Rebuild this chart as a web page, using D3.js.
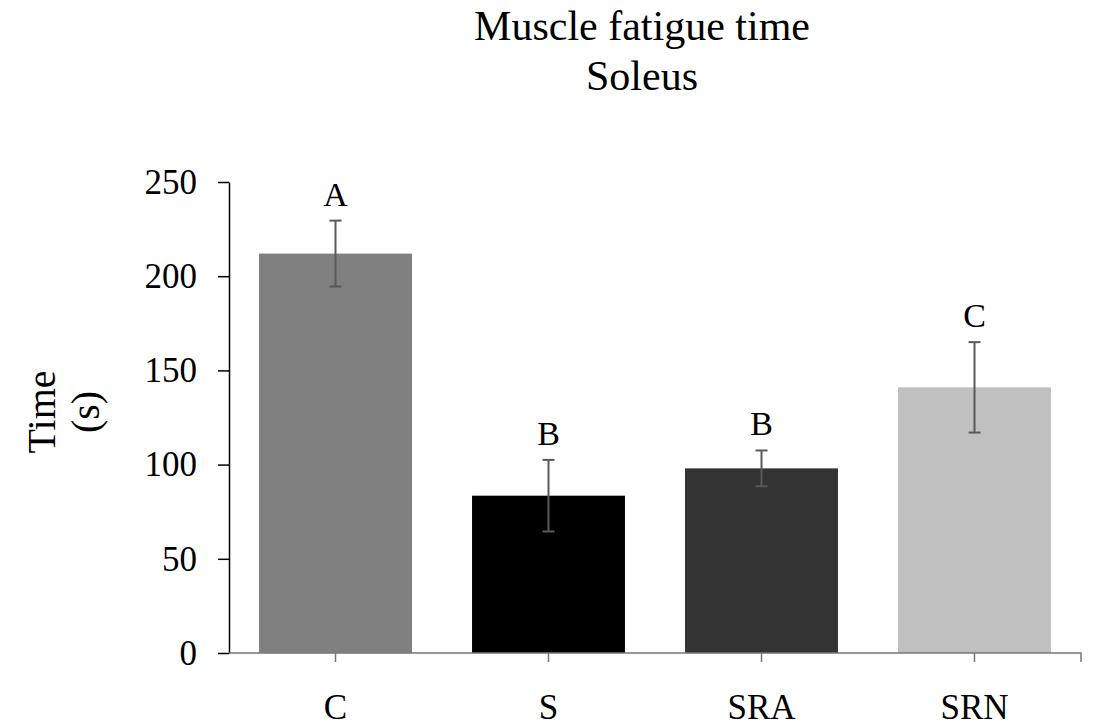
<!DOCTYPE html>
<html>
<head lang="en">
    <meta charset="UTF-8">
    <script type="text/javascript" src="https://d3js.org/d3.v7.min.js"></script>
    <style>
        body { margin: 0; background: #fff; }
        text { font-family: "Liberation Serif", "Times New Roman", serif; fill: #000; }
    </style>
</head>
<body>
    <svg id="chart" width="1097" height="725"></svg>
    <script>
        // values
        var groups = ["C", "S", "SRA", "SRN"];
        var means = [212, 83.5, 98, 141];
        var errors = [17.5, 19, 9.5, 24];
        var letters = ["A", "B", "B", "C"];
        var barColors = ["#808080", "#000000", "#333333", "#c0c0c0"];
        var yTicks = [0, 50, 100, 150, 200, 250];

        var svg = d3.select("#chart");
        var plotLeft = 229, plotRight = 1081, plotTop = 182, plotBottom = 653;

        var x = d3.scaleBand().domain(groups).range([plotLeft, plotRight])
            .paddingInner(0.282).paddingOuter(0.141);
        var y = d3.scaleLinear().domain([0, 250]).range([plotBottom, plotTop]);

        // bars
        svg.selectAll("rect.bar")
            .data(groups)
            .enter()
            .append("rect")
                .attr("class", "bar")
                .attr("x", function(d){ return x(d); })
                .attr("y", function(d, i){ return y(means[i]); })
                .attr("width", x.bandwidth())
                .attr("height", function(d, i){ return plotBottom - y(means[i]); })
                .attr("fill", function(d, i){ return barColors[i]; });

        // error bars + letters
        var err = svg.append("g").attr("stroke", "#595959").attr("stroke-width", 2);
        groups.forEach(function(g, i){
            var cx = x(g) + x.bandwidth() / 2;
            var hi = y(means[i] + errors[i]), lo = y(means[i] - errors[i]);
            err.append("line").attr("x1", cx).attr("x2", cx).attr("y1", hi).attr("y2", lo);
            err.append("line").attr("x1", cx - 6).attr("x2", cx + 6).attr("y1", hi).attr("y2", hi);
            err.append("line").attr("x1", cx - 6).attr("x2", cx + 6).attr("y1", lo).attr("y2", lo);
            svg.append("text")
                .attr("x", cx)
                .attr("y", hi - 15)
                .attr("text-anchor", "middle")
                .style("font-size", "34px")
                .text(letters[i]);
        });

        // y axis
        var yAxis = svg.append("g")
            .attr("transform", "translate(" + plotLeft + ",0)")
            .call(d3.axisLeft(y).tickValues(yTicks).tickSize(11).tickSizeOuter(0).tickPadding(21));
        yAxis.select(".domain").attr("stroke", "#000").attr("stroke-width", 1.5);
        yAxis.selectAll(".tick line").attr("stroke", "#000").attr("stroke-width", 1.5);
        yAxis.selectAll(".tick text")
            .style("font-family", "'Liberation Serif', 'Times New Roman', serif")
            .style("font-size", "35px").attr("fill", "#000");

        // x axis
        var xAxis = svg.append("g")
            .attr("transform", "translate(0," + plotBottom + ")")
            .call(d3.axisBottom(x).tickSize(9).tickSizeOuter(9).tickPadding(32));
        xAxis.select(".domain").attr("stroke", "#777").attr("stroke-width", 1.5)
            .attr("d", "M" + plotLeft + ",0H" + plotRight + "V9");
        xAxis.selectAll(".tick line").attr("stroke", "#777").attr("stroke-width", 1.5);
        xAxis.selectAll(".tick text")
            .style("font-family", "'Liberation Serif', 'Times New Roman', serif")
            .style("font-size", "35px").attr("fill", "#000");

        // title
        svg.append("text").attr("x", 642).attr("y", 40).attr("text-anchor", "middle")
            .style("font-size", "42px").text("Muscle fatigue time");
        svg.append("text").attr("x", 642).attr("y", 90).attr("text-anchor", "middle")
            .style("font-size", "42px").text("Soleus");

        // y label
        var yl = svg.append("text").attr("transform", "translate(55,412) rotate(-90)")
            .attr("text-anchor", "middle").style("font-size", "40px");
        yl.append("tspan").attr("x", 0).attr("y", 0).text("Time");
        yl.append("tspan").attr("x", 0).attr("y", 44).text("(s)");
    </script>
</body>
</html>
